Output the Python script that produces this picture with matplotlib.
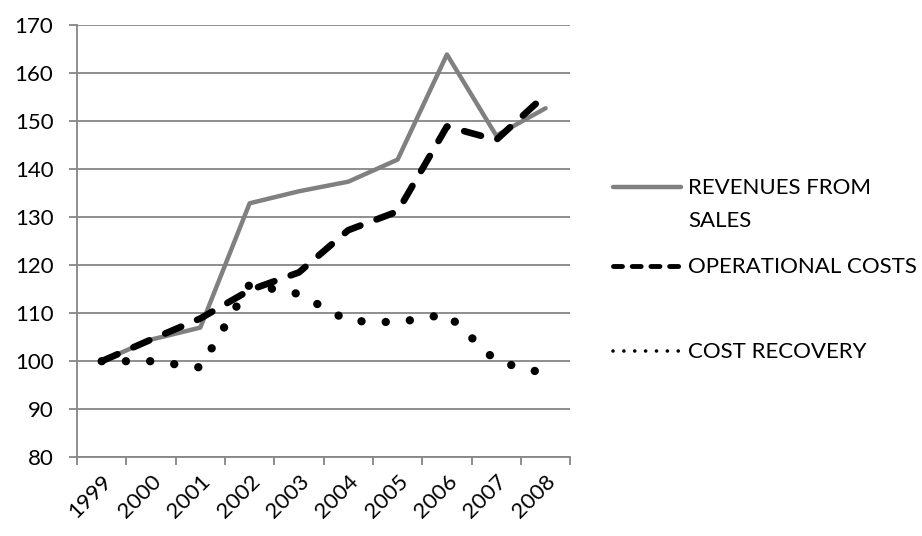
import matplotlib
matplotlib.use("Agg")
import matplotlib.pyplot as plt
from matplotlib.lines import Line2D
import numpy as np

plt.rcParams['font.family'] = ['Lato', 'DejaVu Sans']

years = ["1999", "2000", "2001", "2002", "2003", "2004", "2005", "2006", "2007", "2008"]
revenues = [100, 104.5, 107, 132.9, 135.4, 137.4, 142.0, 163.9, 147.0, 152.7]
op_costs = [100, 104.5, 108.9, 114.8, 118.5, 127.3, 131.2, 148.9, 146.1, 155.5]
cost_recovery = [100, 100, 98.7, 116.0, 114.0, 108.4, 108.1, 109.8, 100, 97.4]

labels = ["REVENUES FROM\nSALES", "OPERATIONAL COSTS", "COST RECOVERY"]
grid_col = "#868686"

# stil je linii: (kolor, grubosc, styl)
styles = [
    dict(color="#808080", lw=3.2, linestyle="-", solid_capstyle="round"),
    dict(color="black", lw=4.8, linestyle=(0, (2.6, 2.6)), dash_capstyle="round"),
    dict(color="black", lw=6, linestyle=(0, (0.01, 2.9)), dash_capstyle="round"),
]

fig = plt.figure(figsize=(9.22, 5.36), dpi=100)
ax = fig.add_axes([0.0835, 0.147, 0.535, 0.806])

x = np.arange(len(years))
for vals, st in zip([revenues, op_costs, cost_recovery], styles):
    ax.plot(x, vals, **st)

ax.set_xlim(-0.5, len(years) - 0.5)
ax.set_ylim(80, 170)
ax.set_yticks(np.arange(80, 171, 10))
ax.yaxis.grid(True, color=grid_col, lw=1.3)
ax.set_axisbelow(True)

ax.set_xticks(x)
ax.set_xticklabels(years, rotation=45, ha="right", rotation_mode="anchor", fontsize=16)
ax.set_xticks(np.arange(-0.5, len(years), 1), minor=True)
ax.tick_params(axis="x", which="major", length=0, pad=10)
ax.tick_params(axis="x", which="minor", length=6, color=grid_col, width=1.3)
ax.tick_params(axis="y", length=6, color=grid_col, width=1.3, labelsize=16, pad=11)

for s in ["top", "right"]:
    ax.spines[s].set_visible(False)
for s in ["left", "bottom"]:
    ax.spines[s].set_color(grid_col)
    ax.spines[s].set_linewidth(1.3)

# legenda w stylu Excela (uchwyt przy pierwszej linii tekstu)
leg_y = [1 - 187 / 536, 1 - 266 / 536, 1 - 351 / 536]
leg_styles = [
    dict(color="#808080", lw=3.2, linestyle="-", solid_capstyle="round"),
    dict(color="black", lw=3.5, linestyle=(0, (1.85, 2.0)), dash_capstyle="round"),
    dict(color="black", lw=2.6, linestyle=(0, (0.01, 3.0)), dash_capstyle="round"),
]
x0, x1, xt = 613 / 922, 681 / 922, 688 / 922
for y, lab, st in zip(leg_y, labels, leg_styles):
    fig.add_artist(Line2D([x0, x1], [y, y], transform=fig.transFigure, **st))
    fig.text(xt, y + 0.016, lab, fontsize=16, va="top", ha="left", linespacing=1.8,
             transform=fig.transFigure)

fig.savefig("out.png", dpi=100)
